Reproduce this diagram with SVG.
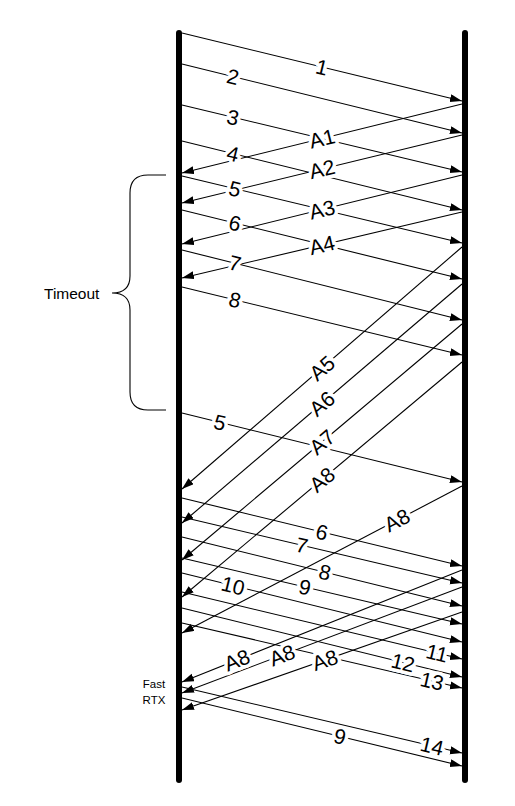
<svg xmlns="http://www.w3.org/2000/svg" width="515" height="806" viewBox="0 0 515 806">
<style>
.life{stroke:#000;stroke-width:6;stroke-linecap:round;fill:none}
.msg{stroke:#000;stroke-width:1.1;fill:none;marker-end:url(#ah)}
.lbl{font-family:"Liberation Sans",Arial,sans-serif;font-size:21px;fill:#000;text-anchor:middle;paint-order:stroke;stroke:#fff;stroke-width:7px;stroke-linejoin:round}
.note{font-family:"Liberation Sans",Arial,sans-serif;fill:#000}
.brace{stroke:#000;stroke-width:1.1;fill:none}
</style>
<defs>
<marker id="ah" markerUnits="userSpaceOnUse" markerWidth="13" markerHeight="9" refX="12" refY="4" orient="auto" viewBox="0 0 13 9">
<path d="M0,0 L12,4 L0,8 z" fill="#000"/>
</marker>
</defs>
<rect width="515" height="806" fill="#fff"/>
<g id="sender"><line class="life" x1="179" y1="33" x2="179" y2="780"/></g>
<g id="receiver"><line class="life" x1="465" y1="33" x2="465" y2="780"/></g>
<g id="timeout">
<path class="brace" d="M166,175 H148 Q130,175 130,193 V276 Q130,293 112,293 Q130,293 130,310 V392 Q130,410 148,410 H166"/>
<text class="note" x="44" y="299" font-size="15.5">Timeout</text>
</g>
<g id="fastrtx">
<text class="note" x="154" y="688" font-size="11.5" text-anchor="middle">Fast</text>
<text class="note" x="154" y="704" font-size="11.5" text-anchor="middle">RTX</text>
</g>
<g id="connectors">
<line class="msg" x1="182" y1="33" x2="462" y2="101"/>
<line class="msg" x1="182" y1="64" x2="462" y2="133"/>
<line class="msg" x1="182" y1="105" x2="462" y2="172"/>
<line class="msg" x1="182" y1="141" x2="462" y2="210"/>
<line class="msg" x1="182" y1="176" x2="462" y2="243"/>
<line class="msg" x1="182" y1="210" x2="462" y2="279"/>
<line class="msg" x1="182" y1="250" x2="462" y2="320"/>
<line class="msg" x1="182" y1="287" x2="462" y2="355"/>
<line class="msg" x1="182" y1="413" x2="462" y2="482"/>
<line class="msg" x1="182" y1="498" x2="462" y2="566"/>
<line class="msg" x1="182" y1="517" x2="462" y2="583"/>
<line class="msg" x1="182" y1="537" x2="462" y2="606"/>
<line class="msg" x1="182" y1="558" x2="462" y2="624"/>
<line class="msg" x1="182" y1="573" x2="462" y2="642"/>
<line class="msg" x1="182" y1="592" x2="462" y2="659"/>
<line class="msg" x1="182" y1="608" x2="462" y2="677"/>
<line class="msg" x1="182" y1="623" x2="462" y2="688"/>
<line class="msg" x1="182" y1="687" x2="462" y2="753"/>
<line class="msg" x1="182" y1="698" x2="462" y2="766"/>
<line class="msg" x1="462" y1="104" x2="182" y2="173"/>
<line class="msg" x1="462" y1="135" x2="182" y2="203"/>
<line class="msg" x1="462" y1="175" x2="182" y2="244"/>
<line class="msg" x1="462" y1="212" x2="182" y2="278"/>
<line class="msg" x1="462" y1="247" x2="182" y2="489"/>
<line class="msg" x1="462" y1="284" x2="182" y2="523"/>
<line class="msg" x1="462" y1="324" x2="182" y2="560"/>
<line class="msg" x1="462" y1="362" x2="182" y2="597"/>
<line class="msg" x1="462" y1="486" x2="182" y2="633"/>
<line class="msg" x1="462" y1="570" x2="182" y2="682"/>
<line class="msg" x1="462" y1="587" x2="182" y2="693"/>
<line class="msg" x1="462" y1="612" x2="182" y2="710"/>
<text class="lbl" transform="translate(322,67) rotate(13.6)" y="7.5">1</text>
<text class="lbl" transform="translate(233,76.6) rotate(13.8)" y="7.5">2</text>
<text class="lbl" transform="translate(233,117.2) rotate(13.5)" y="7.5">3</text>
<text class="lbl" transform="translate(233,153.6) rotate(13.8)" y="7.5">4</text>
<text class="lbl" transform="translate(235,188.7) rotate(13.5)" y="7.5">5</text>
<text class="lbl" transform="translate(235,223.1) rotate(13.8)" y="7.5">6</text>
<text class="lbl" transform="translate(235,263.2) rotate(14)" y="7.5">7</text>
<text class="lbl" transform="translate(235,299.9) rotate(13.6)" y="7.5">8</text>
<text class="lbl" transform="translate(220,422.4) rotate(13.8)" y="7.5">5</text>
<text class="lbl" transform="translate(322,532) rotate(13.6)" y="7.5">6</text>
<text class="lbl" transform="translate(302,545.3) rotate(13.2)" y="7.5">7</text>
<text class="lbl" transform="translate(325,572.2) rotate(13.8)" y="7.5">8</text>
<text class="lbl" transform="translate(305,587) rotate(13.2)" y="7.5">9</text>
<text class="lbl" transform="translate(233,585.6) rotate(13.8)" y="7.5">10</text>
<text class="lbl" transform="translate(437,653) rotate(13.4)" y="7.5">11</text>
<text class="lbl" transform="translate(403,662.5) rotate(13.8)" y="7.5">12</text>
<text class="lbl" transform="translate(432,681) rotate(13)" y="7.5">13</text>
<text class="lbl" transform="translate(432,745.9) rotate(13.2)" y="7.5">14</text>
<text class="lbl" transform="translate(340,736.4) rotate(13.6)" y="7.5">9</text>
<text class="lbl" transform="translate(322,138.5) rotate(-13.8)" y="7.5">A1</text>
<text class="lbl" transform="translate(322,169) rotate(-13.6)" y="7.5">A2</text>
<text class="lbl" transform="translate(322,209.5) rotate(-13.8)" y="7.5">A3</text>
<text class="lbl" transform="translate(322,245) rotate(-13.2)" y="7.5">A4</text>
<text class="lbl" transform="translate(322,368) rotate(-40.8)" y="7.5">A5</text>
<text class="lbl" transform="translate(322,403.5) rotate(-40.5)" y="7.5">A6</text>
<text class="lbl" transform="translate(322,442) rotate(-40.1)" y="7.5">A7</text>
<text class="lbl" transform="translate(322,479.5) rotate(-40)" y="7.5">A8</text>
<text class="lbl" transform="translate(397,520.1) rotate(-27.7)" y="7.5">A8</text>
<text class="lbl" transform="translate(237,660) rotate(-21.8)" y="7.5">A8</text>
<text class="lbl" transform="translate(282,655.1) rotate(-20.7)" y="7.5">A8</text>
<text class="lbl" transform="translate(325,660) rotate(-19.3)" y="7.5">A8</text>
</g>
</svg>
